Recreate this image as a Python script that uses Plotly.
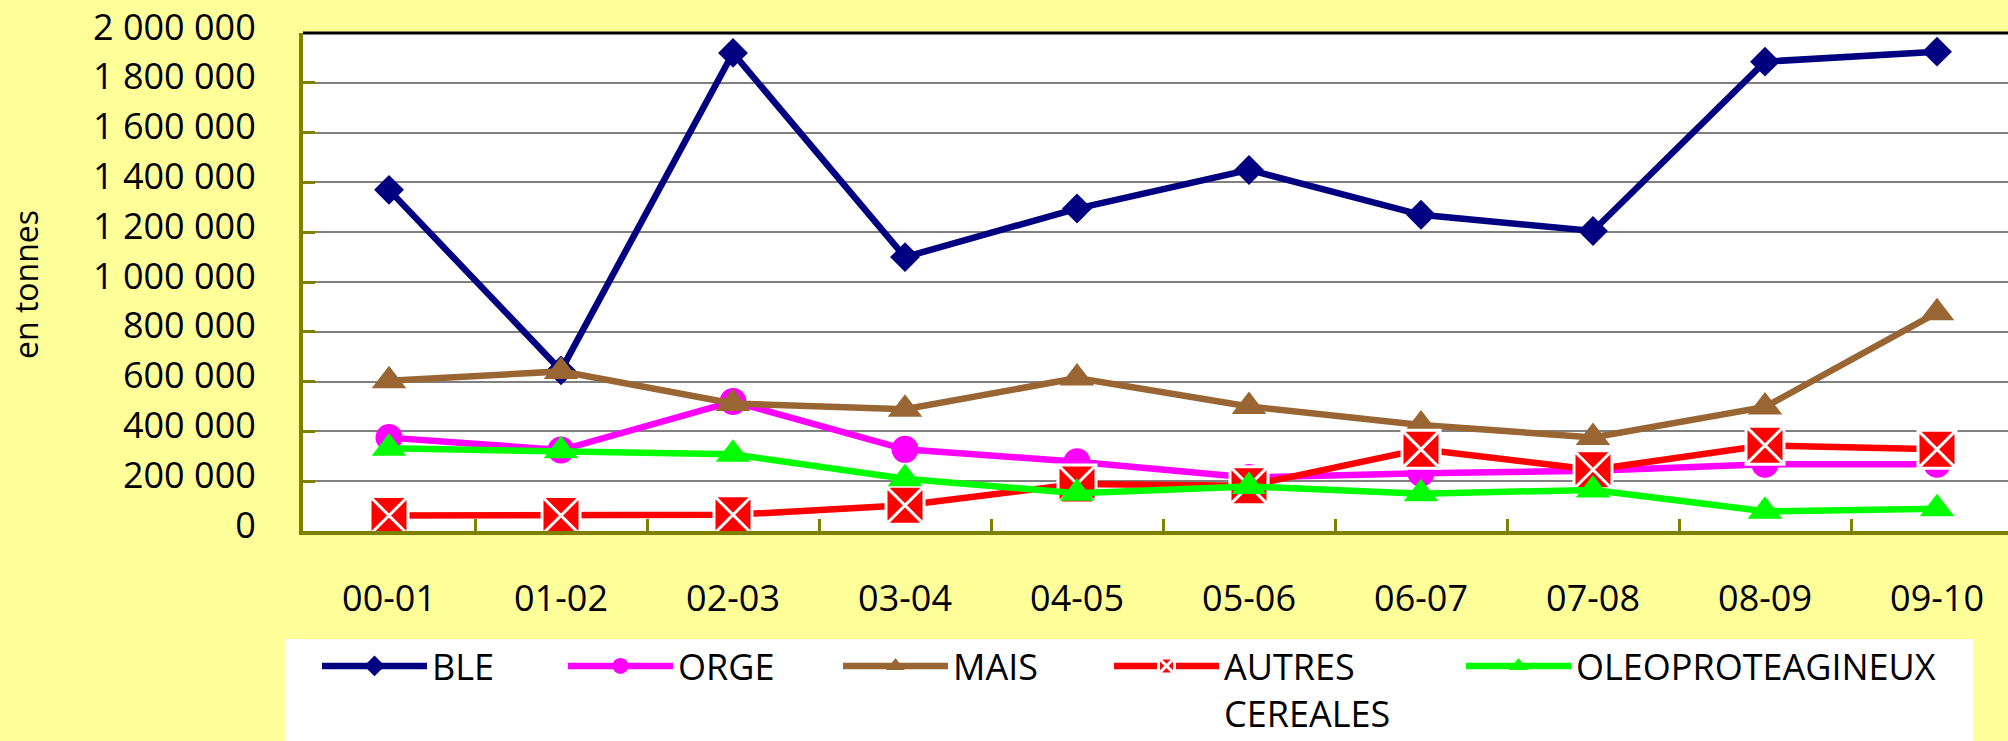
import plotly.graph_objects as go

# Campagnes (categories on the x axis)
campagnes = ["00-01", "01-02", "02-03", "03-04", "04-05",
             "05-06", "06-07", "07-08", "08-09", "09-10"]

# Tonnages per crop
ble = [1370000, 645000, 1920000, 1100000, 1295000, 1450000, 1270000, 1205000, 1885000, 1925000]
orge = [375000, 325000, 520000, 328000, 278000, 215000, 232000, 242000, 268000, 268000]
mais = [603000, 641000, 512000, 489000, 614000, 500000, 426000, 376000, 498000, 877000]
autres_cereales = [62000, 62000, 65000, 103000, 189000, 182000, 328000, 246000, 344000, 328000]
oleoproteagineux = [332000, 322000, 308000, 210000, 152000, 179000, 150000, 165000, 79000, 89000]

# Y axis ticks (thousands separated by spaces)
y_tickvals = [0, 200000, 400000, 600000, 800000, 1000000, 1200000, 1400000, 1600000, 1800000, 2000000]
y_ticktext = ["0", "200 000", "400 000", "600 000", "800 000",
              "1 000 000", "1 200 000", "1 400 000", "1 600 000", "1 800 000", "2 000 000"]

FONT = "Open Sans, Noto Sans, sans-serif"
PAPER = "#FFFF99"
OLIVE = "#808000"

W, H = 2008, 741
ML, MR, MT, MB = 303, 0, 33, 210
PW, PH = W - ML - MR, H - MT - MB
CAT_PX = 172.0  # pixel width of one category slot


def px_x(px):
    return (px - ML) / PW


def px_y(py):
    return (H - MB - py) / PH


series = [
    dict(name="BLE", y=ble, color="#000080", symbol="diamond", size=23, lw=126),
    dict(name="ORGE", y=orge, color="#FF00FF", symbol="circle", size=27, lw=155),
    dict(name="MAIS", y=mais, color="#996633", symbol="triangle-up", size=30, lw=151),
    dict(name="AUTRES<br>CEREALES", y=autres_cereales, color="#FF0000", symbol="square-x", size=38, lw=232),
    dict(name="OLEOPROTEAGINEUX", y=oleoproteagineux, color="#00FF00", symbol="triangle-up", size=30, lw=380),
]

fig = go.Figure()
for s in series:
    marker = dict(symbol=s["symbol"], size=s["size"], color=s["color"])
    if s["symbol"] == "square-x":
        marker["line"] = dict(color="white", width=3)
    else:
        marker["line"] = dict(width=0)
    fig.add_trace(go.Scatter(
        x=campagnes, y=s["y"], name=s["name"], mode="lines+markers",
        line=dict(color=s["color"], width=6.5),
        marker=marker, legendwidth=s["lw"],
        hoverinfo="skip",
    ))

fig.update_layout(
    width=W, height=H,
    margin=dict(l=ML, r=MR, t=MT, b=MB, pad=0, autoexpand=False),
    paper_bgcolor=PAPER,
    plot_bgcolor="white",
    font=dict(family=FONT, size=36, color="black"),
    showlegend=True,
    legend=dict(
        orientation="h",
        x=px_x(317), xanchor="left",
        y=px_y(636), yanchor="top",
        bgcolor="rgba(0,0,0,0)",
        borderwidth=0,
        itemwidth=105,
        valign="top",
        font=dict(family=FONT, size=36, color="black"),
        itemclick=False, itemdoubleclick=False,
    ),
    xaxis=dict(
        type="category",
        range=[-0.5, -0.5 + PW / CAT_PX],
        tickson="boundaries",
        ticks="inside", ticklen=12, tickwidth=3, tickcolor=OLIVE,
        showline=True, linecolor=OLIVE, linewidth=4,
        showgrid=False, zeroline=False,
        tickfont=dict(family=FONT, size=36, color="black"),
        ticklabelstandoff=33,
        fixedrange=True,
    ),
    yaxis=dict(
        range=[0, 2000000],
        tickmode="array", tickvals=y_tickvals, ticktext=y_ticktext,
        ticks="inside", ticklen=12, tickwidth=3, tickcolor=OLIVE,
        showline=True, linecolor=OLIVE, linewidth=4,
        showgrid=True, gridcolor="#808080", gridwidth=2,
        zeroline=False,
        tickfont=dict(family=FONT, size=36, color="black"),
        ticklabelstandoff=36,
        ticklabelshift=-6,
        fixedrange=True,
    ),
    shapes=[
        # white panel behind the legend
        dict(type="rect", xref="paper", yref="paper", layer="below",
             x0=px_x(285), x1=px_x(1973), y0=px_y(639), y1=px_y(H + 5),
             fillcolor="white", line=dict(width=0)),
        # dark top border of the plotting area
        dict(type="line", xref="paper", yref="paper", layer="above",
             x0=0, x1=1, y0=1, y1=1, line=dict(color="black", width=3)),
    ],
    annotations=[
        dict(text="en tonnes", textangle=-90, xref="paper", yref="paper",
             x=px_x(25), y=px_y(285), xanchor="center", yanchor="middle",
             showarrow=False, font=dict(family=FONT, size=32, color="black")),
    ],
)

fig.write_html("out.html")
